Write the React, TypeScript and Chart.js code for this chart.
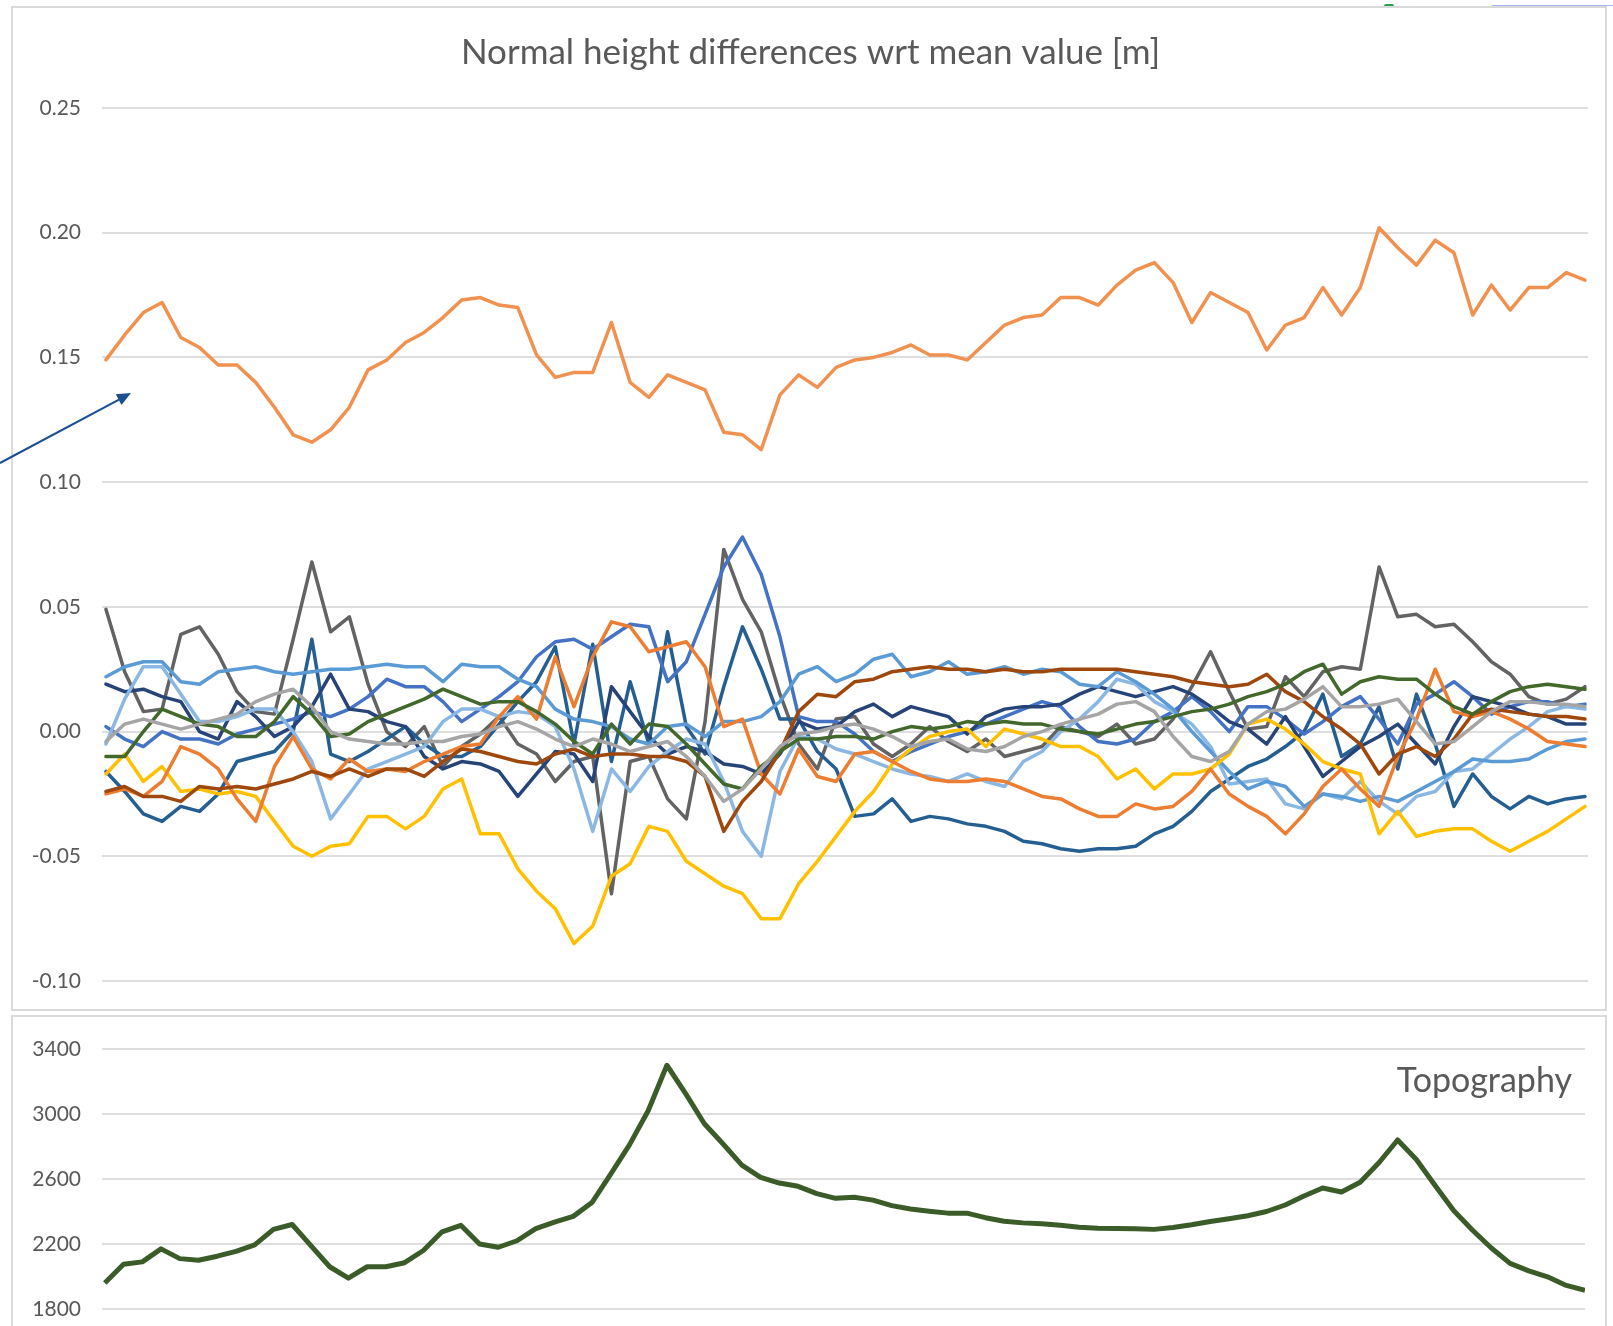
import React, { useEffect, useRef } from 'react';
import { Chart, registerables } from 'chart.js';

Chart.register(...registerables);

// ---------- data ----------
// 80 equally spaced stations along the profile
const STATIONS = Array.from({ length: 80 }, (_, i) => i);

const Y_TICKS_TOP = [-0.1, 0.25, 0.05]; // min, max, step
const Y_TICKS_TOPO = [1800, 3400, 400];

const TITLE = 'Normal height differences wrt mean value [m]';
const TOPO_LABEL = 'Topography';

const TOP_SERIES = [
  0.149, 0.159, 0.168, 0.172, 0.158, 0.154, 0.147, 0.147, 0.140, 0.130,
  0.119, 0.116, 0.121, 0.130, 0.145, 0.149, 0.156, 0.160, 0.166, 0.173,
  0.174, 0.171, 0.170, 0.151, 0.142, 0.144, 0.144, 0.164, 0.140, 0.134,
  0.143, 0.140, 0.137, 0.120, 0.119, 0.113, 0.135, 0.143, 0.138, 0.146,
  0.149, 0.150, 0.152, 0.155, 0.151, 0.151, 0.149, 0.156, 0.163, 0.166,
  0.167, 0.174, 0.174, 0.171, 0.179, 0.185, 0.188, 0.180, 0.164, 0.176,
  0.172, 0.168, 0.153, 0.163, 0.166, 0.178, 0.167, 0.178, 0.202, 0.194,
  0.187, 0.197, 0.192, 0.167, 0.179, 0.169, 0.178, 0.178, 0.184, 0.181,
];

const GOLD = [
  -0.017, -0.009, -0.020, -0.014, -0.024, -0.023, -0.025, -0.024, -0.026, -0.036,
  -0.046, -0.050, -0.046, -0.045, -0.034, -0.034, -0.039, -0.034, -0.023, -0.019,
  -0.041, -0.041, -0.055, -0.064, -0.071, -0.085, -0.078, -0.058, -0.053, -0.038,
  -0.040, -0.052, -0.057, -0.062, -0.065, -0.075, -0.075, -0.061, -0.052, -0.042,
  -0.032, -0.024, -0.013, -0.007, -0.002, 0.000, 0.001, -0.006, 0.001, -0.001,
  -0.003, -0.006, -0.006, -0.010, -0.019, -0.015, -0.023, -0.017, -0.017, -0.015,
  -0.009, 0.003, 0.005, 0.001, -0.005, -0.012, -0.015, -0.017, -0.041, -0.032,
  -0.042, -0.040, -0.039, -0.039, -0.044, -0.048, -0.044, -0.040, -0.035, -0.030,
];

const DARK_GRAY = [
  0.049, 0.024, 0.008, 0.009, 0.039, 0.042, 0.031, 0.016, 0.008, 0.007,
  0.037, 0.068, 0.040, 0.046, 0.019, 0.000, -0.006, 0.002, -0.014, -0.006,
  -0.001, 0.006, -0.005, -0.009, -0.020, -0.012, -0.010, -0.065, -0.012, -0.010,
  -0.027, -0.035, 0.004, 0.073, 0.053, 0.040, 0.015, -0.005, -0.015, 0.005,
  0.006, -0.005, -0.010, -0.005, 0.002, -0.004, -0.008, -0.003, -0.010, -0.008,
  -0.006, 0.002, 0.000, -0.002, 0.003, -0.005, -0.003, 0.005, 0.018, 0.032,
  0.016, 0.001, 0.002, 0.022, 0.014, 0.024, 0.026, 0.025, 0.066, 0.046,
  0.047, 0.042, 0.043, 0.036, 0.028, 0.023, 0.014, 0.011, 0.013, 0.018,
];

const ORANGE = [
  -0.025, -0.023, -0.026, -0.020, -0.006, -0.009, -0.015, -0.027, -0.036, -0.014,
  -0.002, -0.015, -0.019, -0.011, -0.016, -0.015, -0.016, -0.012, -0.009, -0.006,
  -0.005, 0.006, 0.014, 0.005, 0.030, 0.010, 0.030, 0.044, 0.042, 0.032,
  0.034, 0.036, 0.026, 0.002, 0.005, -0.017, -0.025, -0.007, -0.018, -0.020,
  -0.009, -0.008, -0.012, -0.016, -0.019, -0.020, -0.020, -0.019, -0.020, -0.023,
  -0.026, -0.027, -0.031, -0.034, -0.034, -0.029, -0.031, -0.030, -0.024, -0.015,
  -0.025, -0.030, -0.034, -0.041, -0.033, -0.022, -0.015, -0.023, -0.030, -0.010,
  0.005, 0.025, 0.008, 0.006, 0.008, 0.005, 0.001, -0.004, -0.005, -0.006,
];

const BROWN = [
  -0.024, -0.022, -0.026, -0.026, -0.028, -0.022, -0.023, -0.022, -0.023, -0.021,
  -0.019, -0.016, -0.018, -0.015, -0.018, -0.015, -0.015, -0.018, -0.012, -0.007,
  -0.008, -0.010, -0.012, -0.013, -0.009, -0.007, -0.010, -0.009, -0.009, -0.010,
  -0.010, -0.012, -0.018, -0.040, -0.028, -0.020, -0.008, 0.008, 0.015, 0.014,
  0.020, 0.021, 0.024, 0.025, 0.026, 0.025, 0.025, 0.024, 0.025, 0.024,
  0.024, 0.025, 0.025, 0.025, 0.025, 0.024, 0.023, 0.022, 0.020, 0.019,
  0.018, 0.019, 0.023, 0.016, 0.012, 0.006, 0.001, -0.005, -0.017, -0.009,
  -0.006, -0.010, -0.003, 0.007, 0.009, 0.008, 0.007, 0.006, 0.006, 0.005,
];

const BLUE = [
  0.002, -0.003, -0.006, 0.000, -0.003, -0.003, -0.005, -0.001, 0.001, 0.003,
  0.005, 0.008, 0.006, 0.009, 0.014, 0.021, 0.018, 0.018, 0.012, 0.004,
  0.009, 0.014, 0.020, 0.030, 0.036, 0.037, 0.033, 0.038, 0.043, 0.042,
  0.020, 0.028, 0.047, 0.066, 0.078, 0.063, 0.038, 0.006, 0.004, 0.004,
  -0.001, -0.008, -0.012, -0.008, -0.005, -0.002, 0.000, 0.003, 0.006, 0.009,
  0.012, 0.010, 0.002, -0.004, -0.005, -0.003, 0.004, 0.008, 0.014, 0.008,
  0.000, 0.010, 0.010, 0.005, -0.001, 0.004, 0.010, 0.014, 0.005, -0.005,
  0.011, 0.015, 0.020, 0.014, 0.007, 0.010, 0.012, 0.012, 0.010, 0.011,
];

const LIGHT_BLUE = [
  0.022, 0.026, 0.028, 0.028, 0.020, 0.019, 0.024, 0.025, 0.026, 0.024,
  0.023, 0.024, 0.025, 0.025, 0.026, 0.027, 0.026, 0.026, 0.020, 0.027,
  0.026, 0.026, 0.021, 0.018, 0.009, 0.005, 0.004, 0.002, -0.003, -0.005,
  0.002, 0.003, -0.002, 0.004, 0.004, 0.006, 0.012, 0.023, 0.026, 0.020,
  0.023, 0.029, 0.031, 0.022, 0.024, 0.028, 0.023, 0.024, 0.026, 0.023,
  0.025, 0.024, 0.019, 0.018, 0.024, 0.020, 0.015, 0.009, 0.000, -0.008,
  -0.016, -0.023, -0.020, -0.022, -0.030, -0.025, -0.026, -0.028, -0.026, -0.028,
  -0.024, -0.020, -0.016, -0.011, -0.012, -0.012, -0.011, -0.007, -0.004, -0.003,
];

const PALE_BLUE = [
  -0.005, 0.013, 0.026, 0.026, 0.015, 0.004, 0.004, 0.006, 0.009, 0.009,
  0.000, -0.012, -0.035, -0.025, -0.015, -0.012, -0.009, -0.006, 0.004, 0.009,
  0.009, 0.006, 0.008, 0.007, 0.002, -0.015, -0.040, -0.015, -0.024, -0.014,
  -0.008, -0.003, -0.005, -0.020, -0.040, -0.050, -0.016, -0.002, -0.003, -0.007,
  -0.009, -0.012, -0.015, -0.017, -0.018, -0.020, -0.017, -0.020, -0.022, -0.012,
  -0.008, 0.000, 0.005, 0.012, 0.021, 0.019, 0.012, 0.008, 0.003, -0.006,
  -0.021, -0.020, -0.019, -0.029, -0.031, -0.025, -0.027, -0.020, -0.028, -0.033,
  -0.026, -0.024, -0.016, -0.015, -0.009, -0.003, 0.002, 0.008, 0.010, 0.009,
];

const DARK_BLUE = [
  -0.016, -0.024, -0.033, -0.036, -0.030, -0.032, -0.025, -0.012, -0.010, -0.008,
  0.000, 0.037, -0.009, -0.012, -0.008, -0.003, 0.002, -0.005, -0.010, -0.010,
  -0.006, 0.003, 0.012, 0.020, 0.034, -0.005, 0.035, -0.012, 0.020, -0.005,
  0.040, 0.002, -0.009, 0.018, 0.042, 0.025, 0.005, 0.005, -0.008, -0.015,
  -0.034, -0.033, -0.027, -0.036, -0.034, -0.035, -0.037, -0.038, -0.040, -0.044,
  -0.045, -0.047, -0.048, -0.047, -0.047, -0.046, -0.041, -0.038, -0.032, -0.024,
  -0.019, -0.014, -0.011, -0.006, 0.000, 0.015, -0.010, -0.005, 0.010, -0.015,
  0.015, -0.005, -0.030, -0.017, -0.026, -0.031, -0.026, -0.029, -0.027, -0.026,
];

const NAVY = [
  0.019, 0.016, 0.017, 0.014, 0.012, 0.000, -0.003, 0.012, 0.006, -0.002,
  0.002, 0.010, 0.023, 0.009, 0.008, 0.004, 0.002, -0.010, -0.015, -0.012,
  -0.013, -0.016, -0.026, -0.017, -0.008, -0.009, -0.020, 0.018, 0.008, -0.002,
  -0.009, -0.006, -0.008, -0.013, -0.014, -0.017, -0.009, 0.004, 0.001, 0.002,
  0.008, 0.011, 0.006, 0.010, 0.008, 0.006, -0.001, 0.006, 0.009, 0.010,
  0.010, 0.011, 0.015, 0.018, 0.016, 0.014, 0.016, 0.018, 0.015, 0.010,
  0.004, 0.001, -0.005, 0.006, -0.006, -0.018, -0.012, -0.006, -0.002, 0.003,
  -0.005, -0.013, 0.002, 0.014, 0.012, 0.010, 0.007, 0.006, 0.003, 0.003,
];

const GREEN = [
  -0.010, -0.010, 0.000, 0.009, 0.006, 0.003, 0.002, -0.002, -0.002, 0.004,
  0.014, 0.007, -0.002, -0.001, 0.004, 0.007, 0.010, 0.013, 0.017, 0.014,
  0.011, 0.012, 0.012, 0.008, 0.003, -0.004, -0.009, 0.003, -0.005, 0.003,
  0.002, -0.005, -0.013, -0.021, -0.023, -0.014, -0.008, -0.003, -0.003, -0.002,
  -0.002, -0.003, 0.000, 0.002, 0.001, 0.002, 0.004, 0.003, 0.004, 0.003,
  0.003, 0.001, 0.000, -0.001, 0.001, 0.003, 0.004, 0.006, 0.008, 0.009,
  0.011, 0.014, 0.016, 0.019, 0.024, 0.027, 0.015, 0.020, 0.022, 0.021,
  0.021, 0.015, 0.010, 0.007, 0.012, 0.016, 0.018, 0.019, 0.018, 0.017,
];

const LIGHT_GRAY = [
  -0.004, 0.003, 0.005, 0.003, 0.001, 0.003, 0.005, 0.007, 0.012, 0.015,
  0.017, 0.010, 0.000, -0.003, -0.004, -0.005, -0.005, -0.004, -0.004, -0.002,
  -0.001, 0.002, 0.004, 0.001, -0.003, -0.006, -0.003, -0.005, -0.008, -0.006,
  -0.004, -0.010, -0.018, -0.028, -0.023, -0.015, -0.006, -0.001, 0.000, 0.002,
  0.003, 0.001, -0.002, -0.006, -0.004, -0.003, -0.007, -0.008, -0.006, -0.002,
  0.000, 0.003, 0.005, 0.007, 0.011, 0.012, 0.008, -0.002, -0.010, -0.012,
  -0.008, 0.003, 0.008, 0.009, 0.013, 0.018, 0.010, 0.010, 0.011, 0.013,
  0.004, -0.005, -0.004, 0.002, 0.008, 0.012, 0.012, 0.011, 0.011, 0.010,
];

const TOPOGRAPHY = [
  1960, 2075, 2090, 2170, 2110, 2100, 2125, 2155, 2195, 2290,
  2320, 2190, 2060, 1990, 2060, 2060, 2085, 2160, 2275, 2315,
  2200, 2180, 2220, 2295, 2335, 2370, 2455, 2630, 2810, 3020,
  3300, 3125, 2940, 2815, 2685, 2610, 2575, 2555, 2510, 2481,
  2488, 2470, 2436, 2415, 2402, 2390, 2390, 2362, 2340, 2330,
  2325, 2316, 2303, 2297, 2296, 2294, 2290, 2302, 2318, 2338,
  2355, 2374, 2400, 2440, 2495, 2545, 2520, 2580, 2700, 2840,
  2720, 2560, 2405, 2285, 2175, 2081, 2035, 1998, 1945, 1915,
];

// ---------- styles ----------
const SERIES_STYLE: [string, number[], string][] = [
  ['Series A', LIGHT_GRAY, '#A5A5A5'],
  ['Series B', GREEN, '#43682B'],
  ['Series C', BROWN, '#9E480E'],
  ['Series D', ORANGE, '#ED7D31'],
  ['Series E', GOLD, '#FFC000'],
  ['Series F', LIGHT_BLUE, '#5B9BD5'],
  ['Series G', PALE_BLUE, '#8BB7E3'],
  ['Series H', NAVY, '#264478'],
  ['Series I', BLUE, '#4472C4'],
  ['Series J', DARK_BLUE, '#255E91'],
  ['Series K', DARK_GRAY, '#636363'],
  ['Series L', TOP_SERIES, '#F0914F'],
];

const FONT = 'Lato, "Open Sans", sans-serif';
const TEXT_COLOR = '#595959';
const GRID_COLOR = '#DEDEDE';

const toPoints = (vals: number[]) => vals.map((y, i) => ({ x: STATIONS[i], y }));

const fmt2 = (v: number) => {
  const n = Math.abs(v) < 1e-9 ? 0 : v;
  return n.toFixed(2);
};

const yAxis = (range: number[], axisWidth: number, fmt: (v: number) => string) => ({
  min: range[0],
  max: range[1],
  afterFit: (s: any) => { s.width = axisWidth; },
  ticks: {
    stepSize: range[2],
    padding: 0,
    color: TEXT_COLOR,
    font: { family: FONT, size: 21 },
    callback: (v: any) => fmt(Number(v)),
  },
  grid: {
    color: GRID_COLOR,
    lineWidth: 2,
    drawTicks: true,
    tickLength: 21,
    tickColor: 'rgba(0,0,0,0)',
  },
  border: { display: false },
});

export default function App() {
  const topRef = useRef<HTMLCanvasElement | null>(null);
  const botRef = useRef<HTMLCanvasElement | null>(null);

  useEffect(() => {
    const charts: Chart[] = [];
    if (topRef.current) {
      charts.push(
        new Chart(topRef.current, {
          type: 'line',
          data: {
            datasets: SERIES_STYLE.map(([label, vals, color]) => ({
              label,
              data: toPoints(vals),
              borderColor: color,
              backgroundColor: color,
              borderWidth: 3.5,
              pointRadius: 0,
              tension: 0,
              fill: false,
              borderJoinStyle: 'round' as const,
              borderCapStyle: 'round' as const,
            })),
          },
          options: {
            responsive: false,
            animation: false,
            events: [],
            layout: { padding: { left: 20, right: 17, top: 0, bottom: 28 } },
            plugins: {
              legend: { display: false },
              tooltip: { enabled: false },
              title: {
                display: true,
                text: TITLE,
                color: TEXT_COLOR,
                font: { family: FONT, size: 35, weight: 'normal', lineHeight: 1.2 },
                padding: { top: 24, bottom: 34 },
              },
            },
            scales: {
              x: { type: 'linear', min: -0.21, max: 79.16, display: false },
              y: yAxis(Y_TICKS_TOP, 69, fmt2) as any,
            },
          },
        })
      );
    }
    if (botRef.current) {
      charts.push(
        new Chart(botRef.current, {
          type: 'line',
          data: {
            datasets: [
              {
                label: TOPO_LABEL,
                data: toPoints(TOPOGRAPHY),
                borderColor: '#3B5C29',
                backgroundColor: '#3B5C29',
                borderWidth: 5,
                pointRadius: 0,
                tension: 0,
                fill: false,
                borderJoinStyle: 'round' as const,
              },
            ],
          },
          options: {
            responsive: false,
            animation: false,
            events: [],
            layout: { padding: { left: 0, right: 20, top: 32, bottom: 17 } },
            plugins: { legend: { display: false }, tooltip: { enabled: false } },
            scales: {
              x: { type: 'linear', min: -0.15, max: 79, display: false },
              y: yAxis(Y_TICKS_TOPO, 89, (v) => String(v)) as any,
            },
          },
        })
      );
    }
    return () => charts.forEach((c) => c.destroy());
  }, []);

  const abs = (l: number, t: number, w: number, h: number): React.CSSProperties => ({
    position: 'absolute', left: l, top: t, width: w, height: h,
  });

  return (
    <div>
      {/* small artefacts along the top edge */}
      <div style={{ ...abs(1384, 4, 10, 4), background: '#2E9E4F', borderRadius: 3 }} />
      <div style={{ ...abs(1492, 5, 121, 1), background: '#A9B4F0' }} />

      {/* upper panel */}
      <div style={{ ...abs(11, 6, 1596, 1005), boxSizing: 'border-box', border: '2px solid #DADADA', background: '#fff' }} />
      <canvas ref={topRef} width={1592} height={1001} style={{ ...abs(13, 8, 1592, 1001), display: 'block' }} />

      {/* lower panel */}
      <div style={{ ...abs(11, 1015, 1596, 311), boxSizing: 'border-box', border: '2px solid #DADADA', borderBottom: 'none', background: '#fff' }} />
      <canvas ref={botRef} width={1592} height={309} style={{ ...abs(13, 1017, 1592, 309), display: 'block' }} />
      <div style={{ ...abs(1250, 1059, 322, 40), textAlign: 'right', font: `34px ${FONT}`, lineHeight: '40px', color: TEXT_COLOR, whiteSpace: 'nowrap' }}>
        {TOPO_LABEL}
      </div>

      {/* annotation arrow */}
      <svg style={{ ...abs(0, 380, 140, 90), overflow: 'visible' }} width={140} height={90}>
        <line x1={0} y1={83} x2={119} y2={19.6} stroke="#1A4F8F" strokeWidth={2} />
        <polygon points="131,13 121.5,24.9 115.8,14.3" fill="#1A4F8F" />
      </svg>
    </div>
  );
}
